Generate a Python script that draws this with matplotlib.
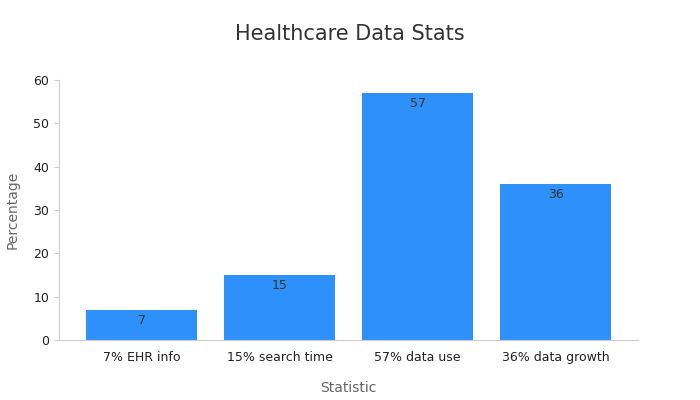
import matplotlib
matplotlib.use("Agg")
import matplotlib.pyplot as plt

categories = ["7% EHR info", "15% search time", "57% data use", "36% data growth"]
values = [7, 15, 57, 36]

fig = plt.figure(figsize=(7, 4), dpi=100)
ax = fig.add_axes([0.084, 0.15, 0.828, 0.65])
bars = ax.bar(categories, values, width=0.8, color="#2e90fa")
for b, v in zip(bars, values):
    ax.text(b.get_x() + b.get_width() / 2, v - 1, str(v), ha="center", va="top",
            fontsize=9, color="#333333")
ax.set_ylim(0, 60)
ax.set_xlim(-0.6, 3.6)
ax.set_yticks(range(0, 61, 10))
for s in ["top", "right"]:
    ax.spines[s].set_visible(False)
for s in ["left", "bottom"]:
    ax.spines[s].set_color("#cccccc")
ax.tick_params(colors="#222222", labelsize=9)
ax.tick_params(axis="x", length=0, pad=8)
ax.tick_params(axis="y", color="#cccccc")
ax.set_xlabel("Statistic", fontsize=10, color="#666666", labelpad=12)
ax.set_ylabel("Percentage", fontsize=10, color="#666666", labelpad=10)
fig.suptitle("Healthcare Data Stats", fontsize=15, color="#333333", y=0.94)
fig.savefig("out.png", dpi=100)
